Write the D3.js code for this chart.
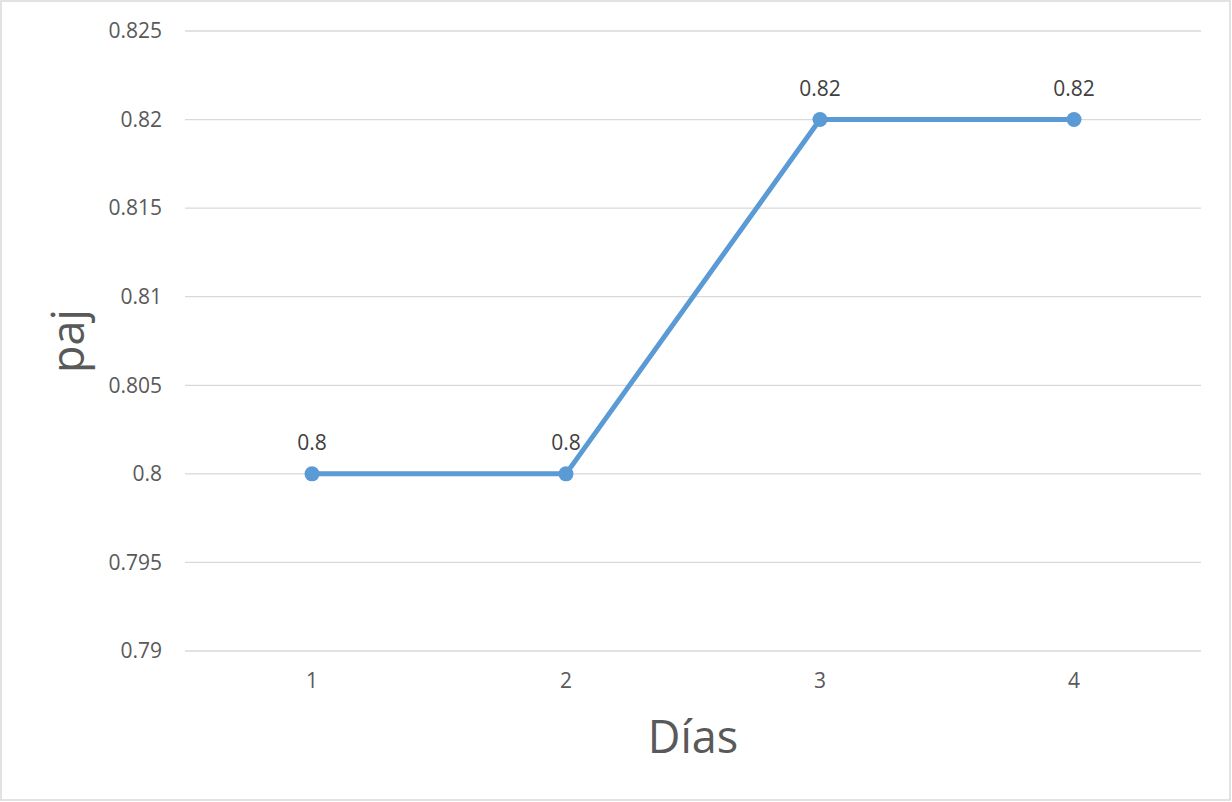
<!DOCTYPE html>
<html>
<head>
<meta charset="utf-8">
<script src="https://cdn.jsdelivr.net/npm/d3@7"></script>
<style>
  html, body { margin: 0; padding: 0; background: #fff; }
  svg { display: block; }
  text { font-family: "Open Sans", "Liberation Sans", sans-serif; }
</style>
</head>
<body>
<svg id="chart" width="1232" height="802"></svg>
<script>
// Series: paj by day
const days = ["1", "2", "3", "4"];
const pajValues = [0.8, 0.8, 0.82, 0.82];
const yTicks = [0.79, 0.795, 0.8, 0.805, 0.81, 0.815, 0.82, 0.825];
const yTickLabels = ["0.79", "0.795", "0.8", "0.805", "0.81", "0.815", "0.82", "0.825"];
const xTitle = "Días";
const yTitle = "paj";

const svg = d3.select("#chart");
const W = 1232, H = 802;
const plot = { left: 185, right: 1201, top: 31, bottom: 651 };

// Outer chart border
svg.append("rect")
  .attr("x", 1).attr("y", 1)
  .attr("width", W - 3).attr("height", H - 3)
  .attr("fill", "#fff")
  .attr("stroke", "#d9d9d9")
  .attr("stroke-width", 1.5);

const x = d3.scaleBand().domain(days).range([plot.left, plot.right]);
const y = d3.scaleLinear().domain([0.79, 0.825]).range([plot.bottom, plot.top]);

// Horizontal gridlines
svg.append("g")
  .selectAll("line")
  .data(yTicks)
  .join("line")
  .attr("x1", plot.left).attr("x2", plot.right)
  .attr("y1", d => y(d)).attr("y2", d => y(d))
  .attr("stroke", "#d9d9d9")
  .attr("stroke-width", 1.3);

// Y axis labels
const yAxis = d3.axisLeft(y)
  .tickValues(yTicks)
  .tickFormat((d, i) => yTickLabels[i])
  .tickSize(0)
  .tickPadding(23);
const gy = svg.append("g")
  .attr("transform", `translate(${plot.left},0)`)
  .call(yAxis);
gy.select(".domain").remove();
gy.selectAll("text")
  .attr("fill", "#595959")
  .style("font-size", "21px");

// X axis labels
const xAxis = d3.axisBottom(x).tickSize(0).tickPadding(22);
const gx = svg.append("g")
  .attr("transform", `translate(0,${plot.bottom})`)
  .call(xAxis);
gx.select(".domain").remove();
gx.selectAll("text")
  .attr("fill", "#595959")
  .style("font-size", "21px");

// Line
const points = days.map((d, i) => ({ day: d, v: pajValues[i] }));
const cx = d => x(d.day) + x.bandwidth() / 2;
svg.append("path")
  .datum(points)
  .attr("fill", "none")
  .attr("stroke", "#5b9bd5")
  .attr("stroke-width", 5)
  .attr("stroke-linejoin", "round")
  .attr("d", d3.line().x(cx).y(d => y(d.v)));

// Markers
svg.append("g")
  .selectAll("circle")
  .data(points)
  .join("circle")
  .attr("cx", cx)
  .attr("cy", d => y(d.v))
  .attr("r", 7.5)
  .attr("fill", "#5b9bd5");

// Data labels
svg.append("g")
  .selectAll("text")
  .data(points)
  .join("text")
  .attr("x", cx)
  .attr("y", d => y(d.v) - 24)
  .attr("text-anchor", "middle")
  .attr("fill", "#404040")
  .style("font-size", "21px")
  .text(d => String(d.v));

// Axis titles
svg.append("text")
  .attr("x", (plot.left + plot.right) / 2)
  .attr("y", 753)
  .attr("text-anchor", "middle")
  .attr("fill", "#595959")
  .style("font-size", "45px")
  .text(xTitle);

svg.append("text")
  .attr("transform", `translate(84,${(plot.top + plot.bottom) / 2}) rotate(-90)`)
  .attr("text-anchor", "middle")
  .attr("fill", "#595959")
  .style("font-size", "45px")
  .text(yTitle);
</script>
</body>
</html>
